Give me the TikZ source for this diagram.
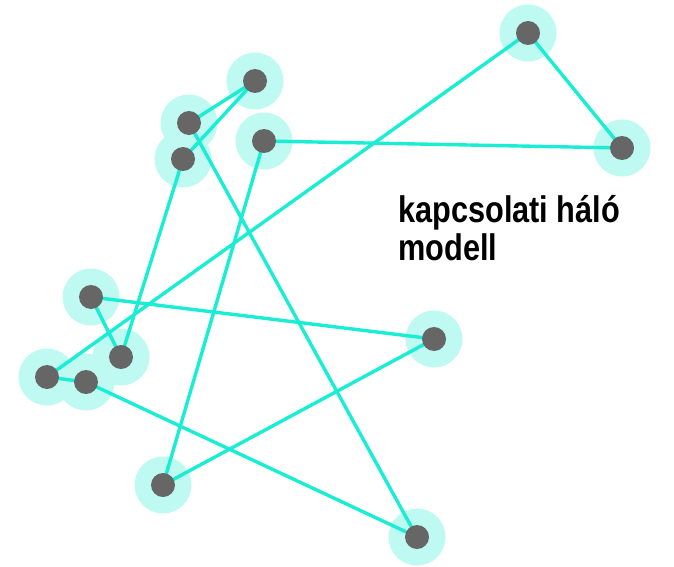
\documentclass[tikz,border=0pt]{standalone}
\usepackage{fontspec}
\setmainfont{Liberation Sans}
\usepackage{graphicx}
\definecolor{halo}{RGB}{190,250,242}
\definecolor{edgec}{RGB}{25,238,212}
\definecolor{dotc}{RGB}{102,102,102}
\begin{document}
\begin{tikzpicture}[x=1pt,y=-1pt,
  vtx/.style={circle,fill=dotc,minimum size=24pt,inner sep=0pt},
  edge/.style={draw=edgec,line width=3.4pt},
  lbl/.style={font=\fontsize{37}{38}\selectfont\bfseries,inner sep=0pt,anchor=base west}]
\useasboundingbox (0,0) rectangle (674,567);
\coordinate (A) at (528,33);
\coordinate (B) at (622,148);
\coordinate (C) at (255,81);
\coordinate (D) at (189,123);
\coordinate (E) at (183,159);
\coordinate (F) at (264,141);
\coordinate (G) at (91,297);
\coordinate (H) at (121,357);
\coordinate (I) at (47,377);
\coordinate (J) at (86,382);
\coordinate (K) at (434,339);
\coordinate (L) at (163,485);
\coordinate (M) at (417,537);
\foreach \p in {A,B,C,D,E,F,G,H,I,J,K,L,M}
  \fill[halo] (\p) circle (28.5pt);
\draw[edge] (A) -- (B);
\draw[edge] (A) -- (I);
\draw[edge] (F) -- (B);
\draw[edge] (C) -- (D);
\draw[edge] (C) -- (E);
\draw[edge] (D) -- (M);
\draw[edge] (E) -- (H);
\draw[edge] (F) -- (L);
\draw[edge] (G) -- (K);
\draw[edge] (G) -- (H);
\draw[edge] (I) -- (J);
\draw[edge] (J) -- (M);
\draw[edge] (K) -- (L);
\foreach \p in {A,B,C,D,E,F,G,H,I,J,K,L,M}
  \node[vtx] (n\p) at (\p) {};
\node[lbl] (t1) at (398,222) {\scalebox{0.83}[1]{kapcsolati háló}};
\node[lbl] (t2) at (398,260) {\scalebox{0.83}[1]{modell}};
\end{tikzpicture}
\end{document}
